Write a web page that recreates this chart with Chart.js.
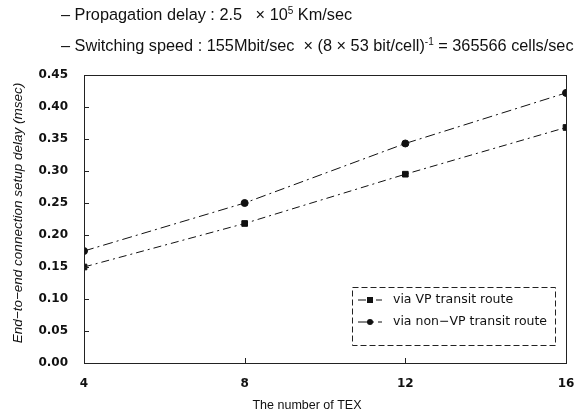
<!DOCTYPE html>
<html><head><meta charset="utf-8">
<script src="https://cdn.jsdelivr.net/npm/chart.js@4/dist/chart.umd.min.js"></script>
<style>
html,body{margin:0;padding:0;background:#fff;}
#wrap{position:relative;width:581px;height:414px;}
#hdr{position:absolute;left:61px;top:-1px;font-family:"Liberation Sans",Arial,sans-serif;font-size:16.3px;color:#111;line-height:31px;white-space:nowrap;}
sup{font-size:10px;vertical-align:6px;line-height:0;}
</style></head>
<body><div id="wrap">
<canvas id="c" width="581" height="414"></canvas>
<div id="hdr">
<div>– Propagation delay : 2.5 &nbsp;&nbsp;× 10<sup>5</sup> Km/sec</div>
<div>– Switching speed : 155Mbit/sec &nbsp;× (8 × 53 bit/cell)<sup>-1</sup> = 365566 cells/sec</div>
</div>
</div>
<script>
const tex = [4, 8, 12, 16];
const vpRoute = [0.150, 0.218, 0.295, 0.368];
const nonVpRoute = [0.175, 0.250, 0.343, 0.422];
const yTicks = [0, 0.05, 0.10, 0.15, 0.20, 0.25, 0.30, 0.35, 0.40, 0.45];
const seriesLabels = ['via VP transit route', 'via non\u2212VP transit route'];
const xTitle = 'The number of TEX';
const yTitle = 'End\u2212to\u2212end connection setup delay (msec)';
const FONT = '"Liberation Sans", Arial, sans-serif';
const TFONT = '"DejaVu Sans", sans-serif';

const boxPlugin = {
  id: 'box',
  afterDraw(chart) {
    const {ctx, chartArea: a, scales} = chart;
    ctx.save();
    ctx.strokeStyle = '#222';
    ctx.lineWidth = 1;
    ctx.strokeRect(Math.round(a.left)+0.5, Math.round(a.top)+0.5, Math.round(a.right-a.left), Math.round(a.bottom-a.top));
    yTicks.forEach(v => {
      const y = Math.round(scales.y.getPixelForValue(v)) + 0.5;
      ctx.beginPath(); ctx.moveTo(a.left, y); ctx.lineTo(a.left + 5, y); ctx.stroke();
    });
    tex.forEach(v => {
      const x = Math.round(scales.x.getPixelForValue(v)) + 0.5;
      ctx.beginPath(); ctx.moveTo(x, a.bottom); ctx.lineTo(x, a.bottom - 5); ctx.stroke();
    });
    ctx.fillStyle = '#111';
    ctx.textAlign = 'center';
    ctx.textBaseline = 'middle';
    ctx.font = '12.5px ' + FONT;
    ctx.fillText(xTitle, 307, 406);
    ctx.save();
    ctx.translate(18, 213);
    ctx.rotate(-Math.PI / 2);
    ctx.font = 'italic 13.5px ' + FONT;
    ctx.fillText(yTitle, 0, 0);
    ctx.restore();
    const lx = 352, ly = 287, lw = 203, lh = 58;
    ctx.setLineDash([6, 3]);
    ctx.strokeRect(lx + 0.5, ly + 0.5, lw, lh);
    ctx.setLineDash([]);
    ctx.textAlign = 'left';
    chart.data.datasets.forEach((ds, i) => {
      const y = ly + 13 + i * 22;
      ctx.strokeStyle = '#111';
      ctx.lineWidth = 1;
      ctx.setLineDash(ds.borderDash);
      ctx.beginPath(); ctx.moveTo(lx + 6, y); ctx.lineTo(lx + 30, y); ctx.stroke();
      ctx.setLineDash([]);
      ctx.fillStyle = '#111';
      if (ds.pointStyle === 'rect') ctx.fillRect(lx + 15, y - 3, 6, 6);
      else { ctx.beginPath(); ctx.arc(lx + 18, y, 3, 0, Math.PI * 2); ctx.fill(); }
      ctx.font = '12.5px ' + TFONT;
      ctx.textBaseline = 'middle';
      ctx.fillText(ds.label, lx + 41, y);
    });
    ctx.restore();
  }
};

new Chart(document.getElementById('c'), {
  type: 'line',
  data: {
    datasets: [
      { label: seriesLabels[0], data: tex.map((x, i) => ({x, y: vpRoute[i]})),
        borderColor: '#111', backgroundColor: '#111', borderWidth: 1, borderDash: [8, 4, 2, 4],
        pointStyle: 'rect', pointRadius: 4, tension: 0 },
      { label: seriesLabels[1], data: tex.map((x, i) => ({x, y: nonVpRoute[i]})),
        borderColor: '#111', backgroundColor: '#111', borderWidth: 1, borderDash: [10, 4, 2, 4],
        pointStyle: 'circle', pointRadius: 3.5, tension: 0 }
    ]
  },
  options: {
    responsive: false, animation: false,
    layout: { padding: { left: 0, right: 15, top: 75, bottom: 0 } },
    plugins: { legend: { display: false }, tooltip: { enabled: false } },
    scales: {
      x: {
        type: 'linear', min: 4, max: 16,
        afterBuildTicks: s => { s.ticks = tex.map(v => ({value: v})); },
        grid: { display: false }, border: { display: false },
        ticks: { color: '#111', font: { family: TFONT, size: 12, weight: 'bold' }, padding: 6 },
        afterFit: s => { s.height = 51; }
      },
      y: {
        min: 0, max: 0.45,
        afterBuildTicks: s => { s.ticks = yTicks.map(v => ({value: v})); },
        grid: { display: false }, border: { display: false },
        ticks: { color: '#111', font: { family: TFONT, size: 12, weight: 'bold' }, padding: 8,
          callback: v => v.toFixed(2) },
        afterFit: s => { s.width = 84; }
      }
    }
  },
  plugins: [boxPlugin]
});
</script>
</body></html>
